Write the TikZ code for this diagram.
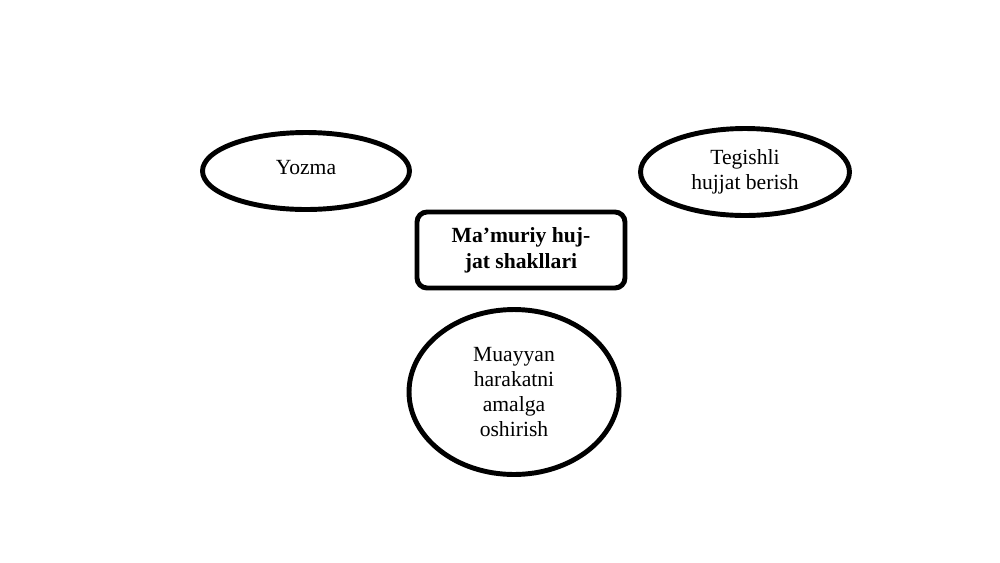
\documentclass[tikz,border=0pt]{standalone}
\usepackage{fontspec}
\setmainfont{Liberation Serif}
\usetikzlibrary{shapes.geometric}

\begin{document}
\begin{tikzpicture}[x=0.02cm, y=-0.02cm,
	oval/.style={draw, ellipse, line width=2.8pt, align=center, inner sep=0pt,
		font=\fontsize{12.3}{14.2}\selectfont},
	kind/.style={draw, rectangle, rounded corners=0.2cm, line width=2.8pt, align=center,
		inner sep=0pt, font=\fontsize{12.3}{14.6}\selectfont\bfseries}]
	\useasboundingbox (0,0) rectangle (1000,562);
	\node [kind, minimum width=4.16cm, minimum height=1.52cm] (forms) at (521,250) {\raisebox{-2pt}{Ma’muriy huj-}\\\raisebox{-2pt}{jat shakllari}};
	\node [oval, minimum width=4.14cm, minimum height=1.54cm] (written) at (306,171) {\raisebox{4pt}{Yozma}};
	\node [oval, minimum width=4.18cm, minimum height=1.74cm] (issue) at (745,172) {Tegishli\\hujjat berish};
	\node [oval, minimum width=4.2cm, minimum height=3.3cm] (action) at (514,392) {Muayyan\\harakatni\\amalga\\oshirish};
\end{tikzpicture}
\end{document}
